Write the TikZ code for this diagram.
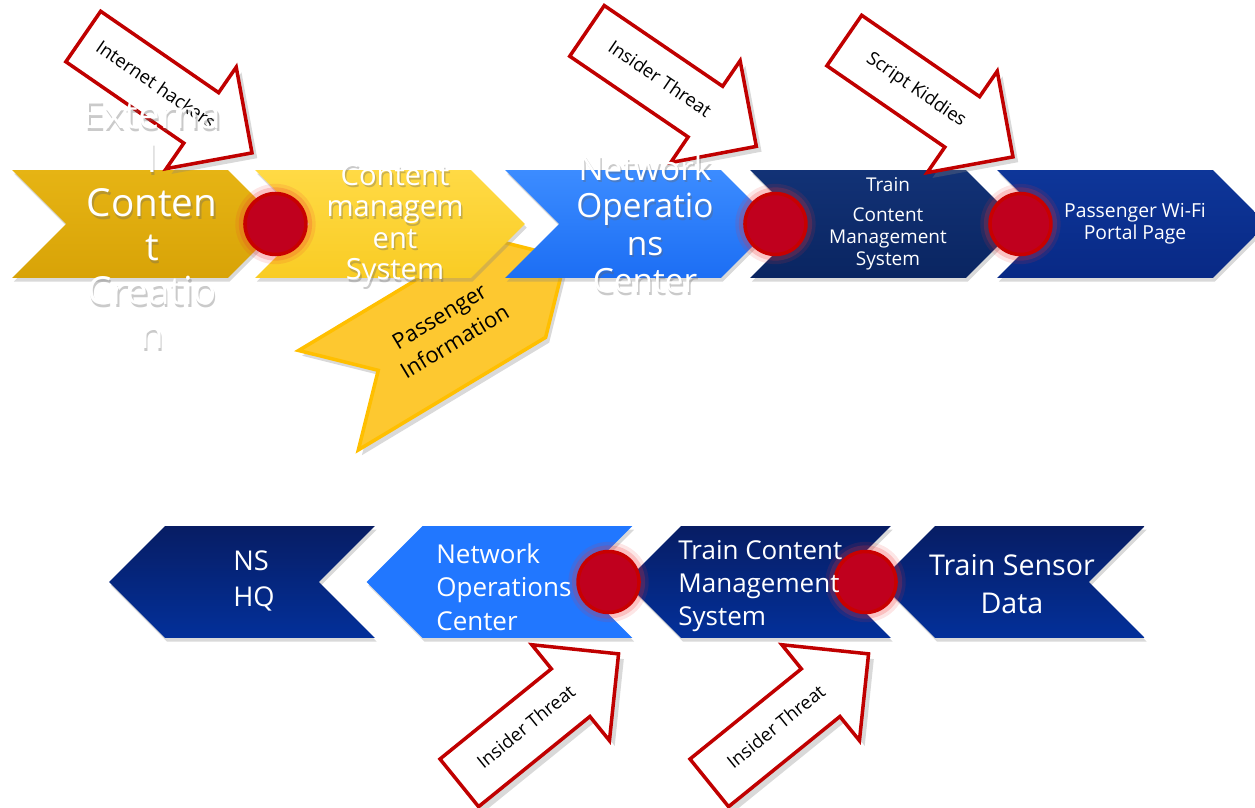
\documentclass[tikz,border=0pt]{standalone}
\usepackage{fontspec}
\setmainfont{Open Sans}
\usepackage{xcolor}
\usetikzlibrary{shapes.symbols,shapes.arrows,shadows}
\definecolor{extgold}{HTML}{D8A307}
\definecolor{extgoldtop}{HTML}{E6B414}
\definecolor{cmsyellow}{HTML}{F9CC24}
\definecolor{cmsyellowtop}{HTML}{FFDA45}
\definecolor{nocblue}{HTML}{1C6EF4}
\definecolor{nocbluetop}{HTML}{3C8CFF}
\definecolor{trainnavy}{HTML}{0A2561}
\definecolor{trainnavytop}{HTML}{123276}
\definecolor{wifiblue}{HTML}{082985}
\definecolor{wifibluetop}{HTML}{0E3699}
\definecolor{hqnavy}{HTML}{03309A}
\definecolor{hqnavytop}{HTML}{071D64}
\definecolor{nocflat}{HTML}{2177FF}
\definecolor{paxyellow}{HTML}{FDC830}
\definecolor{paxedge}{HTML}{FFBF00}
\definecolor{spotred}{HTML}{C0001E}
\definecolor{ringred}{HTML}{C80000}
\definecolor{glowred}{HTML}{F03030}
\definecolor{threatred}{HTML}{C00000}

\begin{document}
\begin{tikzpicture}[x=0.02cm,y=-0.02cm,
  chevron/.style={signal,signal pointer angle=90,inner sep=0pt,
    drop shadow={shadow xshift=1pt,shadow yshift=-2pt,opacity=.3}},
  forward/.style={chevron,signal to=east,signal from=west,minimum width=5.4cm,minimum height=2.16cm},
  backward/.style={chevron,signal to=west,signal from=east,minimum width=5.32cm,minimum height=2.24cm},
  hotspot/.style={circle,minimum size=1.22cm,inner sep=0pt,fill=spotred,draw=ringred,line width=2pt,
    preaction={draw=glowred,draw opacity=.12,line width=11pt},
    preaction={draw=glowred,draw opacity=.2,line width=7pt}},
  threat/.style={single arrow,single arrow head extend=0.62cm,minimum height=4.1cm,
    inner xsep=0pt,inner ysep=11.2pt,text height=8pt,text depth=2.5pt,
    fill=white,draw=threatred,line width=2pt,font=\fontsize{10.5}{12}\selectfont,
    drop shadow={shadow xshift=3pt,shadow yshift=-3pt,opacity=.3}},
  stagetext/.style={text=white,align=center,inner sep=0pt},
  ghosttext/.style={text=black!60,opacity=.35,align=center,inner sep=0pt}]
  \useasboundingbox (0,0) rectangle (1255,808);

  % passenger information feed, behind the top row
  \node[signal,signal to=east,signal from=west,signal pointer angle=90,
    minimum width=5.53cm,minimum height=2.32cm,rotate=31,fill=paxyellow,draw=paxedge,line width=2pt,
    drop shadow={shadow xshift=2pt,shadow yshift=-3pt,opacity=.3},
    align=center,font=\fontsize{12.5}{17}\selectfont] (pax) at (447,329) {Passenger\\Information};

  % top row
  \node[forward,top color=extgoldtop,bottom color=extgold] (ext) at (147,224) {};
  \node[forward,top color=cmsyellowtop,bottom color=cmsyellow] (cms) at (390,224) {};
  \node[forward,top color=nocbluetop,bottom color=nocblue] (noc) at (640,224) {};
  \node[forward,top color=trainnavytop,bottom color=trainnavy] (traincms) at (885,224) {};
  \node[forward,top color=wifibluetop,bottom color=wifiblue] (wifi) at (1132,224) {};

  % bottom row
  \node[backward,top color=hqnavytop,bottom color=hqnavy] (hq) at (242,582) {};
  \node[backward,fill=nocflat] (nocb) at (499.5,582) {};
  \node[backward,top color=hqnavytop,bottom color=hqnavy] (tcmsb) at (758,582) {};
  \node[backward,top color=hqnavytop,bottom color=hqnavy] (sensor) at (1012,582) {};

  % threat arrows
  \node[threat,rotate=-34.6] (hackers) at (155,86) {Internet hackers};
  \node[threat,rotate=-34.3] (insidertop) at (659,80) {Insider Threat};
  \node[threat,rotate=-34.6] (kiddies) at (916,90) {Script Kiddies};
  \node[threat,rotate=39] (insiderleft) at (527,728) {Insider Threat};
  \node[threat,rotate=39] (insiderright) at (777,728) {Insider Threat};

  % weak points
  \node[hotspot] (dot1) at ([xshift=-0.14cm]ext.east) {};
  \node[hotspot] (dot2) at (noc.east) {};
  \node[hotspot] (dot3) at (traincms.east) {};
  \node[hotspot] (dot4) at ([xshift=-0.32cm]tcmsb.west) {};
  \node[hotspot] (dot5) at ([xshift=-0.26cm]sensor.west) {};

  % stage labels
  \node[ghosttext,font=\fontsize{22}{25}\selectfont] at (153.5,227.5) {Externa\\l\\Conten\\t\\Creatio\\n};
  \node[stagetext,font=\fontsize{22}{25}\selectfont] (exttext) at (152,225) {Externa\\l\\Conten\\t\\Creatio\\n};
  \node[ghosttext,font=\fontsize{16.6}{18}\selectfont] at (396.5,228) {Content\\managem\\ent\\System};
  \node[stagetext,font=\fontsize{16.6}{18}\selectfont] (cmstext) at (395,225.5) {Content\\managem\\ent\\System};
  \node[ghosttext,font=\fontsize{19}{21.4}\selectfont] at (646.5,226.5) {Network\\Operatio\\ns\\Center};
  \node[stagetext,font=\fontsize{19}{21.4}\selectfont] (noctext) at (645,224) {Network\\Operatio\\ns\\Center};
  \node[stagetext,font=\fontsize{10.8}{12.5}\selectfont] (traintext) at (888,224) {Train\\[4.5pt]Content\\Management\\System};
  \node[stagetext,font=\fontsize{11}{12.5}\selectfont] (wifitext) at (1135,224) {Passenger Wi-Fi\\Portal Page};

  \node[stagetext,align=left,anchor=west,font=\fontsize{15.5}{20}\selectfont] (hqtext) at (233,581) {NS\\HQ};
  \node[stagetext,align=left,anchor=west,font=\fontsize{14.8}{19}\selectfont] (nocbtext) at (436,587) {Network\\Operations\\Center};
  \node[stagetext,align=left,anchor=west,font=\fontsize{14.8}{19}\selectfont] (tcmsbtext) at (678,586) {Train Content\\Management\\System};
  \node[stagetext,font=\fontsize{16.3}{21.5}\selectfont] (sensortext) at (1012,584) {Train Sensor\\Data};
\end{tikzpicture}
\end{document}
